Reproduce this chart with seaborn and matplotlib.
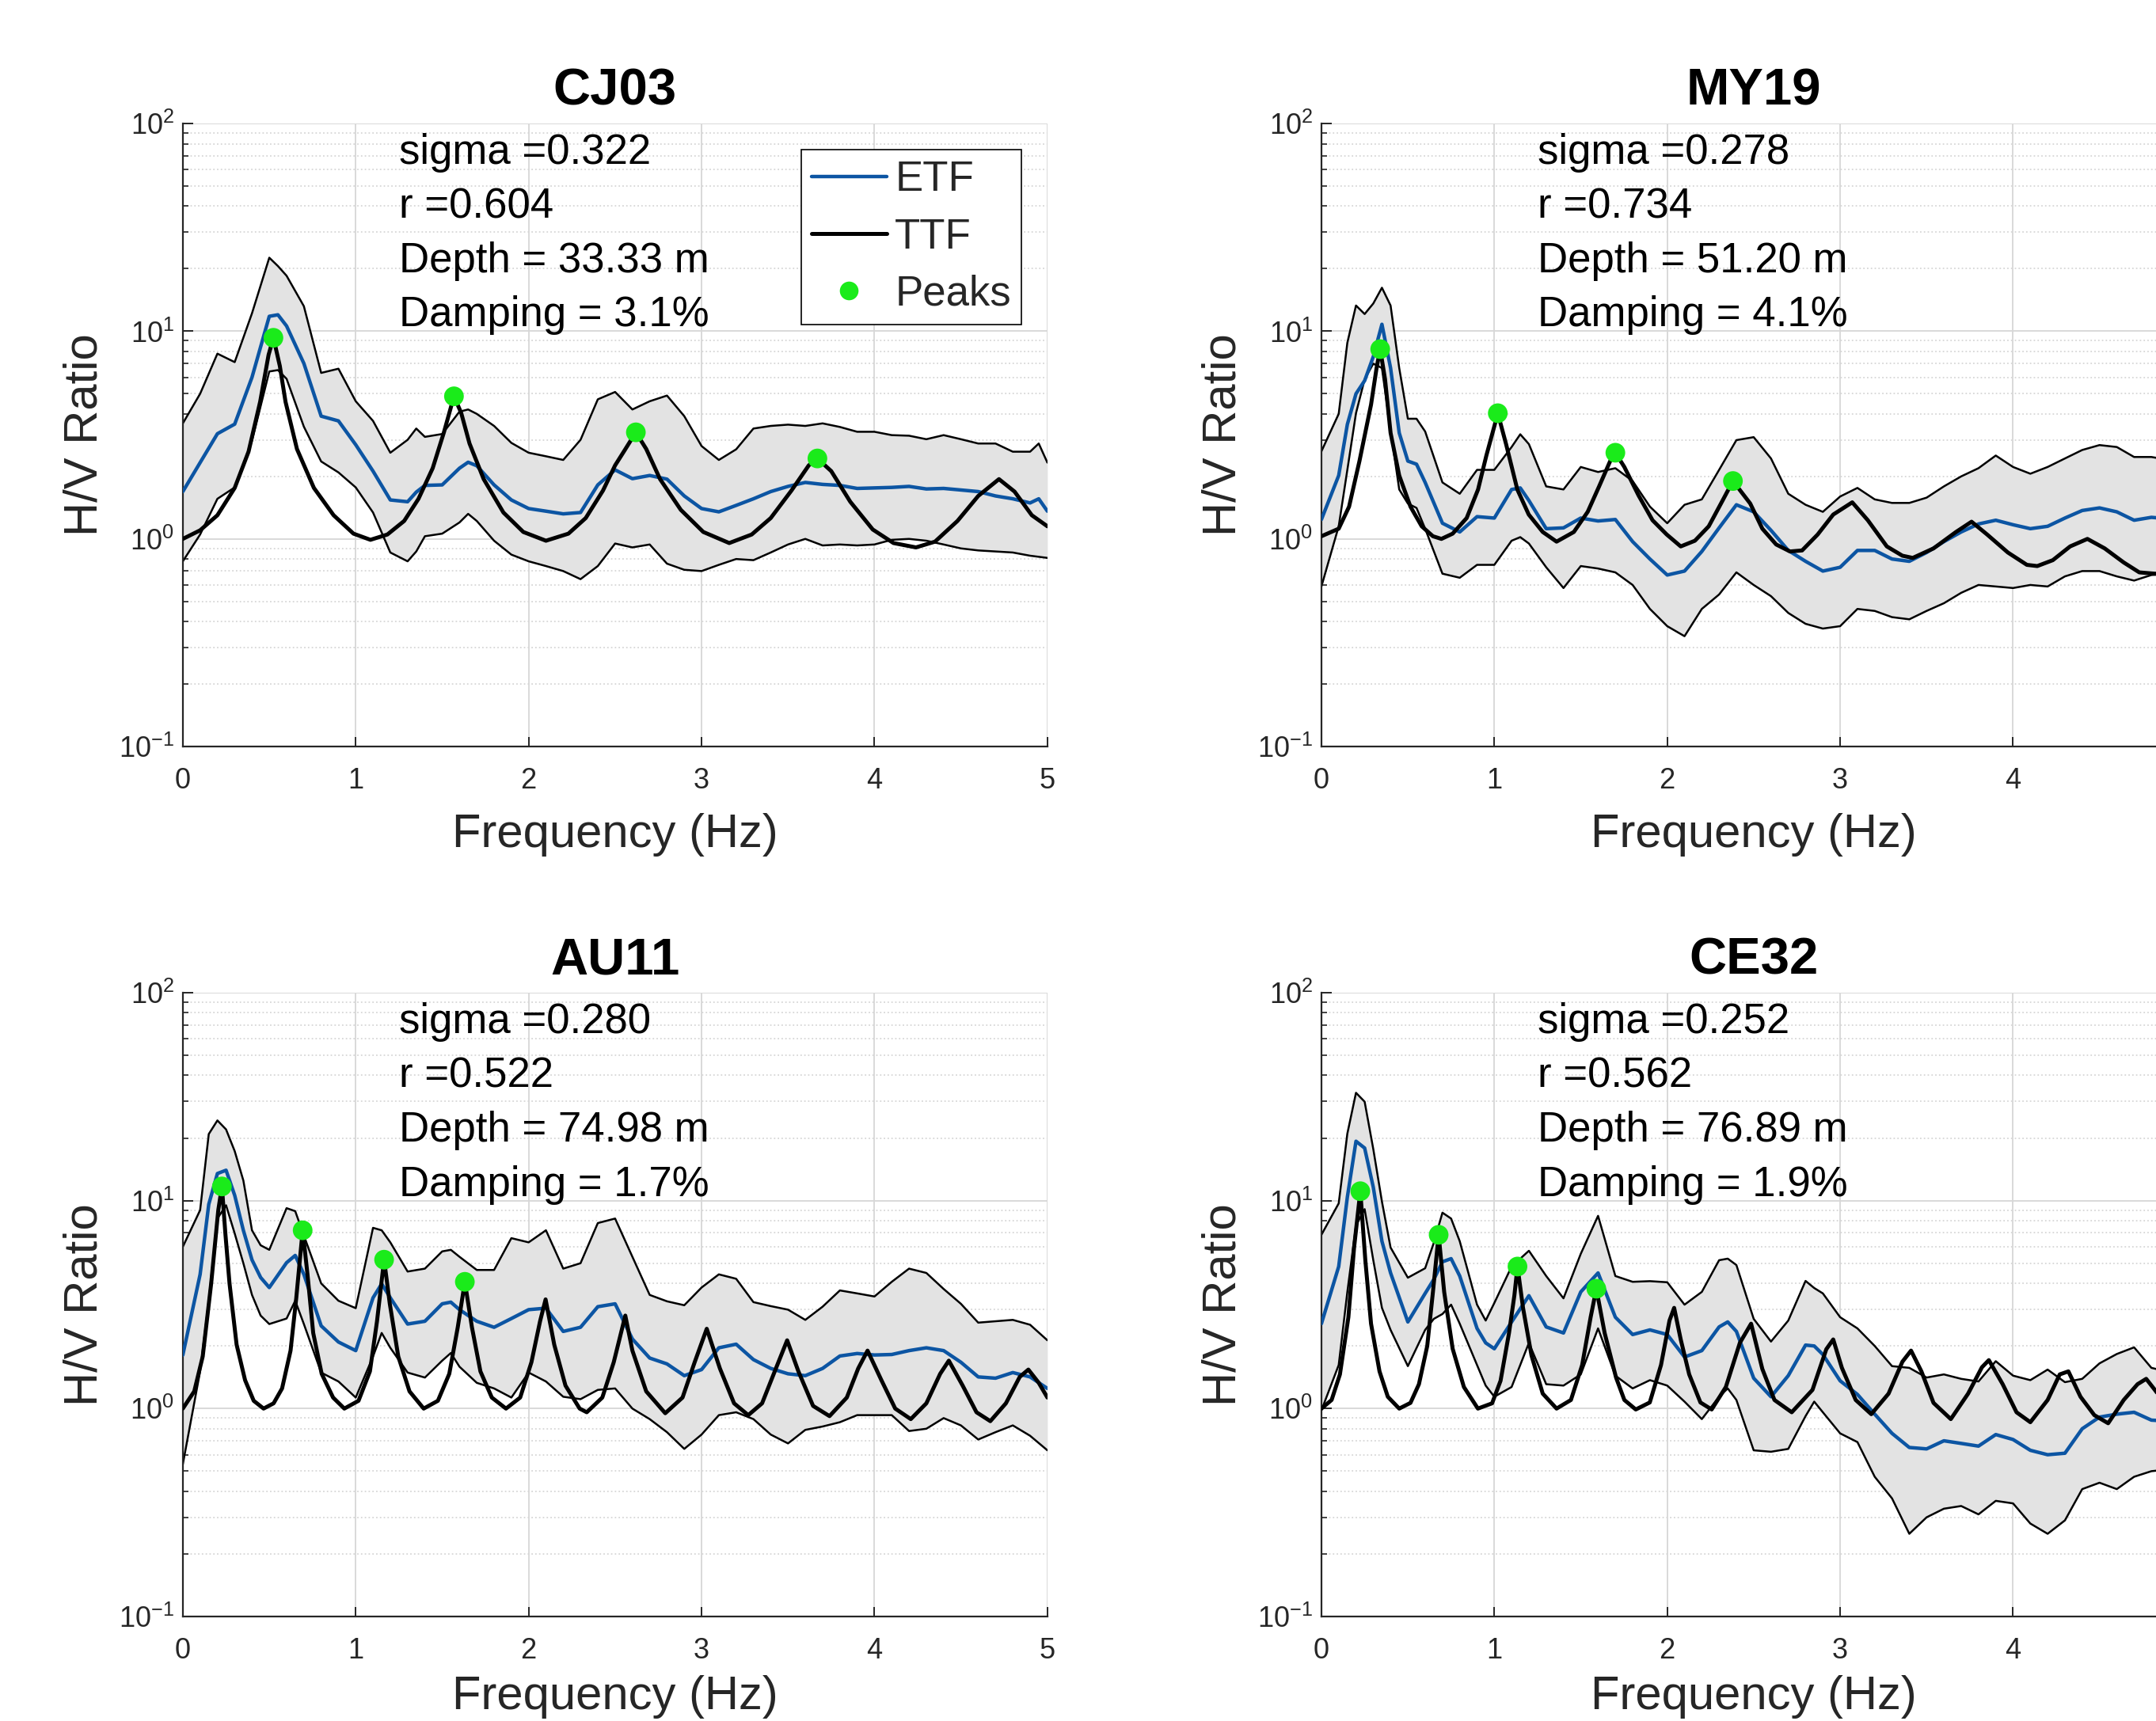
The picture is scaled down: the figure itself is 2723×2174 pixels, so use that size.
import numpy as np
import matplotlib
matplotlib.use('Agg')
from matplotlib import pyplot as plt
from matplotlib.lines import Line2D
from matplotlib.ticker import LogLocator, NullFormatter
import seaborn as sns

# ---------------- data ----------------
stations = ['CJ03', 'MY19', 'AU11', 'CE32']
sigmas = ['0.322', '0.278', '0.280', '0.252']
r_values = ['0.604', '0.734', '0.522', '0.562']
depths = ['33.33', '51.20', '74.98', '76.89']
dampings = ['3.1', '4.1', '1.7', '1.9']

# CJ03
cj03_f = [0, 0.1, 0.2, 0.3, 0.4, 0.5, 0.55, 0.6, 0.7, 0.8, 0.9, 1.0, 1.1, 1.2, 1.3, 1.35, 1.4, 1.5, 1.6, 1.65,
          1.7, 1.8, 1.9, 2.0, 2.1, 2.2, 2.3, 2.4, 2.5, 2.6, 2.7, 2.8, 2.9, 3.0, 3.1, 3.2, 3.3, 3.4, 3.5, 3.6,
          3.7, 3.8, 3.9, 4.0, 4.1, 4.2, 4.3, 4.4, 4.5, 4.6, 4.7, 4.8, 4.9, 4.95, 5.0]
cj03_upper = [3.6, 5.0, 7.8, 7.1, 12.2, 22.6, 20.6, 18.5, 13.2, 6.3, 6.6, 4.6, 3.7, 2.6, 3.0, 3.4, 3.1, 3.2, 4.1, 4.2,
              4.0, 3.5, 2.9, 2.6, 2.5, 2.4, 3.0, 4.7, 5.1, 4.2, 4.6, 4.9, 3.9, 2.8, 2.4, 2.7, 3.4, 3.5, 3.55, 3.5,
              3.6, 3.46, 3.28, 3.28, 3.16, 3.14, 3.02, 3.16, 3.02, 2.88, 2.88, 2.63, 2.63, 2.88, 2.33]
cj03_lower = [0.78, 1.05, 1.56, 1.77, 2.97, 6.4, 6.5, 5.9, 3.47, 2.36, 2.09, 1.77, 1.34, 0.86, 0.78, 0.87, 1.03, 1.06, 1.2, 1.32,
              1.22, 0.98, 0.84, 0.78, 0.74, 0.70, 0.64, 0.74, 0.95, 0.91, 0.94, 0.76, 0.71, 0.70, 0.75, 0.80, 0.79, 0.86, 0.94, 1.0,
              0.93, 0.94, 0.93, 0.94, 0.99, 1.0, 0.98, 0.94, 0.90, 0.88, 0.87, 0.86, 0.83, 0.82, 0.81]
cj03_etf = [1.69, 2.33, 3.21, 3.57, 6.0, 11.8, 12.0, 10.6, 7.0, 3.9, 3.7, 2.84, 2.12, 1.54, 1.51, 1.68, 1.81, 1.82, 2.19, 2.34,
            2.25, 1.82, 1.54, 1.40, 1.36, 1.32, 1.34, 1.82, 2.15, 1.95, 2.02, 1.94, 1.61, 1.40, 1.35, 1.45, 1.56, 1.69, 1.79, 1.87,
            1.83, 1.81, 1.75, 1.76, 1.77, 1.79, 1.74, 1.75, 1.72, 1.69, 1.61, 1.56, 1.49, 1.56, 1.36]
cj03_ttf_f = [0, 0.1, 0.2, 0.3, 0.38, 0.447, 0.496, 0.524, 0.561, 0.594, 0.66, 0.758, 0.872, 0.987, 1.085, 1.183, 1.28,
              1.363, 1.445, 1.51, 1.568, 1.61, 1.658, 1.74, 1.854, 1.969, 2.1, 2.23, 2.33, 2.43, 2.5, 2.55, 2.62, 2.68,
              2.76, 2.88, 3.01, 3.16, 3.29, 3.4, 3.52, 3.62, 3.67, 3.75, 3.86, 3.99, 4.11, 4.24, 4.35, 4.48, 4.6, 4.72,
              4.81, 4.91, 5.0]
cj03_ttf = [1.0, 1.1, 1.3, 1.76, 2.63, 4.57, 7.7, 9.3, 6.8, 4.57, 2.71, 1.76, 1.3, 1.06, 0.99, 1.05, 1.22,
            1.56, 2.19, 3.26, 4.86, 4.04, 2.88, 1.94, 1.34, 1.08, 0.98, 1.06, 1.26, 1.71, 2.26, 2.63, 3.26, 2.71,
            1.94, 1.38, 1.08, 0.955, 1.05, 1.26, 1.71, 2.26, 2.44, 2.12, 1.51, 1.11, 0.955, 0.91, 0.97, 1.22, 1.61, 1.94,
            1.69, 1.3, 1.15]
cj03_peak_f = [0.524, 1.568, 2.62, 3.67]
cj03_peak_v = [9.3, 4.86, 3.26, 2.44]

# MY19
my19_f = [0, 0.1, 0.15, 0.2, 0.25, 0.3, 0.35, 0.4, 0.45, 0.5, 0.55, 0.6, 0.7, 0.8, 0.9, 1.0, 1.1, 1.15, 1.2, 1.3,
          1.4, 1.5, 1.6, 1.7, 1.8, 1.9, 2.0, 2.1, 2.2, 2.3, 2.4, 2.5, 2.6, 2.7, 2.8, 2.9, 3.0, 3.1, 3.2, 3.3,
          3.4, 3.5, 3.6, 3.7, 3.8, 3.9, 4.0, 4.1, 4.2, 4.3, 4.4, 4.5, 4.6, 4.7, 4.8, 4.9]
my19_upper = [2.64, 4.0, 8.8, 13.3, 12.1, 13.6, 16.2, 13.3, 6.65, 3.79, 3.79, 3.29, 1.87, 1.65, 2.15, 2.15, 2.77, 3.19, 2.86, 1.79,
              1.73, 2.22, 2.1, 2.19, 1.9, 1.43, 1.19, 1.46, 1.55, 2.15, 2.99, 3.09, 2.44, 1.65, 1.46, 1.35, 1.6, 1.76, 1.55, 1.49,
              1.49, 1.58, 1.79, 2.0, 2.19, 2.52, 2.22, 2.06, 2.22, 2.44, 2.68, 2.83, 2.77, 2.48, 2.48, 2.4]
my19_lower = [0.59, 1.15, 2.15, 4.03, 5.87, 6.98, 6.65, 3.34, 1.73, 1.48, 1.41, 1.12, 0.68, 0.65, 0.75, 0.75, 0.98, 1.02, 0.95, 0.73,
              0.58, 0.74, 0.72, 0.69, 0.6, 0.46, 0.38, 0.34, 0.46, 0.54, 0.69, 0.6, 0.53, 0.44, 0.39, 0.37, 0.38, 0.46, 0.45, 0.42,
              0.41, 0.45, 0.49, 0.55, 0.6, 0.59, 0.58, 0.6, 0.59, 0.66, 0.7, 0.7, 0.66, 0.63, 0.67, 0.68]
my19_etf = [1.24, 2.02, 3.56, 5.0, 5.78, 7.54, 10.8, 6.65, 3.24, 2.37, 2.29, 1.87, 1.19, 1.08, 1.28, 1.26, 1.73, 1.76, 1.53, 1.12,
            1.13, 1.26, 1.22, 1.24, 0.97, 0.8, 0.67, 0.70, 0.87, 1.13, 1.46, 1.35, 1.1, 0.88, 0.78, 0.70, 0.73, 0.88, 0.88, 0.8,
            0.78, 0.86, 0.97, 1.08, 1.18, 1.23, 1.17, 1.12, 1.15, 1.26, 1.37, 1.41, 1.35, 1.23, 1.27, 1.25]
my19_ttf_f = [0, 0.1, 0.16, 0.22, 0.287, 0.319, 0.34, 0.368, 0.4, 0.45, 0.515, 0.58, 0.645, 0.694, 0.759, 0.84, 0.906,
              0.954, 1.003, 1.02, 1.068, 1.133, 1.199, 1.28, 1.36, 1.46, 1.54, 1.606, 1.67, 1.70, 1.752, 1.834, 1.915,
              1.997, 2.078, 2.16, 2.24, 2.32, 2.38, 2.48, 2.55, 2.63, 2.71, 2.78, 2.87, 2.96, 3.07, 3.16, 3.27, 3.36,
              3.42, 3.54, 3.67, 3.76, 3.85, 3.97, 4.08, 4.14, 4.23, 4.33, 4.43, 4.53, 4.64, 4.73, 4.82, 4.9]
my19_ttf = [1.03, 1.12, 1.43, 2.37, 4.43, 6.65, 8.2, 5.87, 3.24, 2.02, 1.43, 1.15, 1.03, 1.0, 1.06, 1.26, 1.73,
            2.52, 3.56, 4.03, 2.86, 1.73, 1.31, 1.08, 0.97, 1.08, 1.35, 1.79, 2.37, 2.6, 2.22, 1.62, 1.23,
            1.05, 0.92, 0.98, 1.15, 1.53, 1.9, 1.48, 1.12, 0.94, 0.87, 0.88, 1.05, 1.31, 1.5, 1.23, 0.92, 0.83,
            0.81, 0.9, 1.08, 1.21, 1.05, 0.86, 0.75, 0.74, 0.79, 0.92, 1.0, 0.9, 0.77, 0.69, 0.68, 0.68]
my19_peak_f = [0.34, 1.02, 1.70, 2.38]
my19_peak_v = [8.2, 4.03, 2.6, 1.9]

# AU11
au11_f = [0, 0.1, 0.15, 0.2, 0.25, 0.3, 0.35, 0.4, 0.45, 0.5, 0.6, 0.65, 0.7, 0.8, 0.9, 1.0, 1.1, 1.15, 1.2, 1.3,
          1.4, 1.5, 1.55, 1.6, 1.7, 1.8, 1.9, 2.0, 2.1, 2.2, 2.3, 2.4, 2.5, 2.6, 2.7, 2.8, 2.9, 3.0, 3.1, 3.2,
          3.3, 3.4, 3.5, 3.6, 3.7, 3.8, 3.9, 4.0, 4.1, 4.2, 4.3, 4.4, 4.5, 4.6, 4.7, 4.8, 4.9, 5.0]
au11_upper = [6.0, 9.0, 20.9, 24.3, 22.0, 17.3, 12.5, 7.2, 6.1, 5.8, 9.2, 8.9, 6.8, 4.0, 3.3, 3.04, 7.4, 7.2, 6.3, 4.56,
              4.71, 5.7, 5.8, 5.37, 4.64, 4.64, 6.6, 6.3, 7.2, 4.71, 5.0, 7.8, 8.2, 5.37, 3.52, 3.28, 3.14, 3.82, 4.42, 4.21,
              3.25, 3.11, 2.99, 2.67, 3.09, 3.7, 3.58, 3.46, 4.07, 4.71, 4.49, 3.76, 3.19, 2.59, 2.63, 2.67, 2.53, 2.13]
au11_lower = [0.54, 1.51, 3.3, 8.2, 9.5, 6.95, 5.0, 3.52, 2.8, 2.55, 2.71, 3.3, 2.55, 1.49, 1.35, 1.13, 1.78, 2.31, 1.96, 1.49,
              1.41, 1.7, 1.85, 1.59, 1.33, 1.25, 1.13, 1.49, 1.35, 1.14, 1.11, 1.23, 1.25, 1.0, 0.89, 0.77, 0.64, 0.75, 0.93, 0.96,
              0.89, 0.75, 0.68, 0.79, 0.82, 0.86, 0.93, 0.93, 0.93, 0.78, 0.8, 0.9, 0.83, 0.71, 0.77, 0.83, 0.74, 0.63]
au11_etf = [1.81, 4.42, 9.6, 13.5, 14.0, 10.6, 7.2, 5.19, 4.27, 3.82, 5.03, 5.45, 4.42, 2.5, 2.09, 1.9, 3.41, 3.98, 3.41, 2.55,
            2.63, 3.19, 3.25, 2.99, 2.63, 2.46, 2.71, 2.99, 3.04, 2.35, 2.46, 3.09, 3.19, 2.16, 1.75, 1.64, 1.44, 1.54, 1.96, 2.04,
            1.72, 1.56, 1.47, 1.44, 1.56, 1.79, 1.84, 1.81, 1.82, 1.9, 1.96, 1.9, 1.67, 1.42, 1.4, 1.49, 1.42, 1.25]
au11_ttf_f = [0, 0.066, 0.115, 0.164, 0.205, 0.226, 0.246, 0.27, 0.311, 0.36, 0.41, 0.467, 0.525, 0.574, 0.623, 0.656,
              0.693, 0.721, 0.754, 0.803, 0.869, 0.934, 1.016, 1.082, 1.123, 1.164, 1.197, 1.246, 1.311, 1.393, 1.475,
              1.541, 1.59, 1.631, 1.672, 1.721, 1.787, 1.869, 1.951, 2.016, 2.066, 2.098, 2.148, 2.213, 2.295, 2.336,
              2.426, 2.492, 2.559, 2.6, 2.68, 2.79, 2.89, 2.96, 3.03, 3.106, 3.188, 3.27, 3.35, 3.43, 3.495, 3.56,
              3.645, 3.74, 3.84, 3.906, 3.96, 4.04, 4.12, 4.21, 4.30, 4.38, 4.43, 4.51, 4.59, 4.67, 4.76, 4.84, 4.89,
              4.95, 5.0]
au11_ttf = [1.0, 1.21, 1.78, 4.0, 9.0, 11.7, 6.95, 4.0, 2.03, 1.37, 1.09, 1.0, 1.06, 1.25, 1.9, 3.4,
            7.2, 4.42, 2.31, 1.47, 1.13, 1.0, 1.09, 1.51, 2.63, 5.2, 3.19, 1.78, 1.21, 1.0, 1.09,
            1.47, 2.46, 4.07, 2.46, 1.51, 1.13, 1.0, 1.13, 1.67, 2.63, 3.35, 2.03, 1.29, 1.0, 0.96,
            1.13, 1.67, 2.8, 1.9, 1.21, 0.95, 1.13, 1.67, 2.42, 1.56, 1.06, 0.93, 1.06, 1.56, 2.13, 1.51,
            1.03, 0.92, 1.13, 1.56, 1.9, 1.37, 1.0, 0.89, 1.06, 1.47, 1.7, 1.29, 0.96, 0.87, 1.06, 1.42, 1.54,
            1.33, 1.13]
au11_peak_f = [0.226, 0.693, 1.164, 1.631]
au11_peak_v = [11.7, 7.2, 5.2, 4.07]

# CE32
ce32_f = [0, 0.1, 0.15, 0.2, 0.25, 0.3, 0.35, 0.4, 0.5, 0.6, 0.65, 0.7, 0.75, 0.8, 0.9, 0.95, 1.0, 1.1, 1.2, 1.3,
          1.4, 1.5, 1.6, 1.7, 1.8, 1.9, 2.0, 2.1, 2.2, 2.3, 2.35, 2.4, 2.5, 2.6, 2.7, 2.8, 2.85, 2.9, 3.0, 3.1,
          3.2, 3.3, 3.4, 3.5, 3.6, 3.7, 3.8, 3.9, 4.0, 4.1, 4.2, 4.3, 4.4, 4.5, 4.6, 4.7, 4.8, 4.9]
ce32_upper = [6.85, 9.7, 21.0, 33.0, 29.9, 17.7, 9.9, 5.95, 4.26, 4.73, 6.27, 8.75, 8.2, 6.38, 3.16, 2.65, 3.22, 4.82, 5.74, 4.34,
              3.39, 5.55, 8.45, 4.34, 4.07, 4.1, 4.05, 3.16, 3.64, 5.17, 5.26, 4.9, 2.7, 2.1, 2.65, 4.11, 3.8, 3.58, 2.75, 2.43,
              2.0, 1.6, 1.57, 1.41, 1.46, 1.39, 1.35, 1.69, 1.44, 1.37, 1.54, 1.34, 1.39, 1.65, 1.83, 1.97, 1.57, 1.5]
ce32_lower = [0.98, 1.62, 3.64, 7.6, 9.1, 5.17, 3.05, 2.39, 1.6, 2.39, 2.7, 2.85, 3.16, 2.56, 1.62, 1.29, 1.14, 1.27, 2.07, 1.31,
              1.29, 1.46, 2.43, 1.44, 1.25, 1.37, 1.29, 1.08, 0.89, 1.14, 1.25, 1.1, 0.63, 0.62, 0.64, 0.92, 1.08, 0.96, 0.76, 0.69,
              0.47, 0.37, 0.25, 0.30, 0.33, 0.34, 0.31, 0.36, 0.35, 0.28, 0.25, 0.29, 0.41, 0.44, 0.41, 0.47, 0.5, 0.51]
ce32_etf = [2.56, 4.82, 10.4, 19.3, 17.9, 11.6, 6.38, 4.49, 2.61, 3.58, 4.18, 5.08, 5.26, 4.34, 2.43, 2.07, 1.94, 2.61, 3.49, 2.47,
            2.31, 3.64, 4.49, 2.75, 2.27, 2.39, 2.27, 1.77, 1.9, 2.47, 2.61, 2.35, 1.4, 1.14, 1.44, 2.02, 2.0, 1.82, 1.36, 1.17,
            0.94, 0.76, 0.65, 0.64, 0.70, 0.68, 0.66, 0.75, 0.71, 0.63, 0.60, 0.61, 0.8, 0.91, 0.94, 0.96, 0.88, 0.87]
ce32_ttf_f = [0, 0.059, 0.107, 0.156, 0.189, 0.225, 0.254, 0.287, 0.336, 0.384, 0.45, 0.515, 0.564, 0.612, 0.645,
              0.678, 0.71, 0.759, 0.824, 0.905, 0.987, 1.036, 1.085, 1.116, 1.134, 1.166, 1.215, 1.28, 1.36, 1.443,
              1.508, 1.557, 1.59, 1.638, 1.704, 1.752, 1.818, 1.899, 1.964, 2.013, 2.04, 2.078, 2.127, 2.192, 2.257,
              2.339, 2.42, 2.485, 2.55, 2.62, 2.72, 2.84, 2.92, 2.96, 3.01, 3.09, 3.18, 3.28, 3.36, 3.41, 3.47, 3.54,
              3.64, 3.74, 3.82, 3.86, 3.94, 4.02, 4.1, 4.2, 4.27, 4.32, 4.39, 4.47, 4.55, 4.64, 4.72, 4.77, 4.82, 4.9]
ce32_ttf = [1.0, 1.1, 1.46, 2.75, 5.95, 11.1, 5.17, 2.56, 1.51, 1.14, 1.0, 1.065, 1.31, 2.0, 3.64,
            6.85, 3.64, 1.94, 1.27, 1.0, 1.06, 1.36, 2.31, 3.5, 4.82, 3.05, 1.8, 1.18, 1.0, 1.1,
            1.62, 2.75, 3.77, 2.31, 1.41, 1.1, 0.99, 1.07, 1.62, 2.65, 3.05, 2.15, 1.46, 1.07, 0.99,
            1.27, 2.07, 2.56, 1.55, 1.1, 0.96, 1.23, 1.93, 2.15, 1.57, 1.1, 0.94, 1.18, 1.68, 1.9, 1.51, 1.065,
            0.89, 1.18, 1.58, 1.71, 1.31, 0.96, 0.86, 1.1, 1.46, 1.51, 1.14, 0.93, 0.85, 1.1, 1.31, 1.39, 1.23, 1.0]
ce32_peak_f = [0.225, 0.678, 1.134, 1.59]
ce32_peak_v = [11.1, 6.85, 4.82, 3.77]

x_ticks = [0, 1, 2, 3, 4, 5]

# ---------------- style ----------------
sns.set_theme(style='white')
plt.rcParams['font.family'] = ['Liberation Sans', 'DejaVu Sans']
plt.rcParams['mathtext.fontset'] = 'custom'
plt.rcParams['mathtext.rm'] = 'Liberation Sans'
plt.rcParams['mathtext.default'] = 'regular'

ETF_COLOR = '#0c55a3'
PEAK_COLOR = '#1aeb1a'
BAND_COLOR = '#e3e3e3'
AX_COLOR = '#262626'
GRID_COLOR = '#d7d7d7'

fig = plt.figure(figsize=(27.23, 21.74), dpi=100)
positions = [
    [0.0848, 0.5662, 0.401, 0.362],
    [0.6129, 0.5662, 0.401, 0.362],
    [0.0848, 0.0607, 0.401, 0.3625],
    [0.6129, 0.0607, 0.401, 0.3625],
]

panels = [
    (cj03_f, cj03_upper, cj03_lower, cj03_etf, cj03_ttf_f, cj03_ttf, cj03_peak_f, cj03_peak_v),
    (my19_f, my19_upper, my19_lower, my19_etf, my19_ttf_f, my19_ttf, my19_peak_f, my19_peak_v),
    (au11_f, au11_upper, au11_lower, au11_etf, au11_ttf_f, au11_ttf, au11_peak_f, au11_peak_v),
    (ce32_f, ce32_upper, ce32_lower, ce32_etf, ce32_ttf_f, ce32_ttf, ce32_peak_f, ce32_peak_v),
]

for i, (f, up, lo, etf, tf, ttf, pf, pv) in enumerate(panels):
    ax = fig.add_axes(positions[i])
    ax.set_yscale('log')

    # band of ETF +- sigma
    ax.fill_between(f, lo, up, color=BAND_COLOR, lw=0, zorder=1)
    sns.lineplot(x=f, y=up, ax=ax, color='black', lw=1.8, zorder=2)
    sns.lineplot(x=f, y=lo, ax=ax, color='black', lw=1.8, zorder=2)
    sns.lineplot(x=f, y=etf, ax=ax, color=ETF_COLOR, lw=3.2, zorder=3)
    sns.lineplot(x=tf, y=ttf, ax=ax, color='black', lw=3.6, zorder=4)
    sns.scatterplot(x=pf, y=pv, ax=ax, color=PEAK_COLOR, s=320, edgecolor='none', zorder=5)

    ax.set_xlim(0, 5)
    ax.set_ylim(0.1, 100)
    ax.set_xticks(x_ticks)
    # the right-hand panels run past the figure edge, so their "5" is not shown
    if i % 2 == 0:
        ax.set_xticklabels([str(t) for t in x_ticks])
    else:
        ax.set_xticklabels([str(t) for t in x_ticks[:-1]] + [''])
    ax.yaxis.set_major_locator(LogLocator(base=10, numticks=10))
    ax.yaxis.set_minor_locator(LogLocator(base=10, subs=np.arange(2, 10), numticks=20))
    ax.yaxis.set_minor_formatter(NullFormatter())

    ax.set_axisbelow(True)
    ax.grid(True, which='major', color=GRID_COLOR, lw=1.3, ls='-')
    ax.grid(True, which='minor', axis='y', color=GRID_COLOR, lw=1.3, ls=':')

    for side in ['top', 'right']:
        ax.spines[side].set_visible(False)
    for side in ['left', 'bottom']:
        ax.spines[side].set_color(AX_COLOR)
        ax.spines[side].set_linewidth(1.6)

    ax.tick_params(axis='both', which='both', direction='in', colors=AX_COLOR,
                   left=True, bottom=True, top=False, right=False)
    ax.tick_params(axis='both', which='major', length=9, width=1.4, labelsize=26)
    ax.tick_params(axis='y', which='minor', length=5, width=1.2)
    ax.tick_params(axis='x', which='major', pad=19)
    ax.tick_params(axis='y', which='major', pad=8)

    ax.set_title(stations[i], fontsize=47, fontweight='bold', pad=17, color='black')
    # bottom row sits on the figure edge: keep its label a little tighter so it stays inside
    ax.set_xlabel('Frequency (Hz)', fontsize=43, color=AX_COLOR, labelpad=16 if i < 2 else 9)
    ax.set_ylabel('H/V Ratio', fontsize=43, color=AX_COLOR, labelpad=11)

    lines = ['sigma =' + sigmas[i], 'r =' + r_values[i],
             'Depth = ' + depths[i] + ' m', 'Damping = ' + dampings[i] + '%']
    for k, txt in enumerate(lines):
        ax.text(0.25, 0.953 - k * 0.087, txt, transform=ax.transAxes, fontsize=38,
                ha='left', va='center', color='black', zorder=6)

    if i == 0:
        handles = [Line2D([], [], color=ETF_COLOR, lw=3.2),
                   Line2D([], [], color='black', lw=3.6),
                   Line2D([], [], color=PEAK_COLOR, marker='o', ls='none', markersize=17, markeredgewidth=0)]
        leg = ax.legend(handles, ['ETF', 'TTF', 'Peaks'], loc='upper right', bbox_to_anchor=(0.97, 0.958),
                        fontsize=38, frameon=True, fancybox=False, edgecolor='black', framealpha=1,
                        handlelength=1.8, handletextpad=0.2, labelspacing=0.42, borderpad=0.25,
                        borderaxespad=0)
        leg.get_frame().set_linewidth(1.2)
        leg.set_zorder(7)

fig.savefig('out.png', dpi=100, facecolor='white')
